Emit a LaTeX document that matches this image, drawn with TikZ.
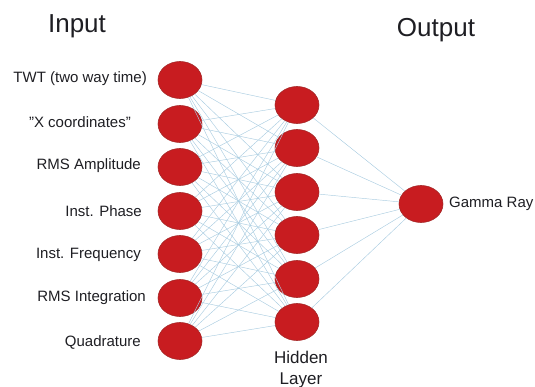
\documentclass[tikz,border=0pt]{standalone}
\usepackage{fontspec}
\setmainfont{Liberation Sans}
\usetikzlibrary{shapes.geometric}
\definecolor{neuron}{RGB}{200,28,32}
\definecolor{neuronedge}{RGB}{165,40,40}
\definecolor{wire}{RGB}{170,205,225}
\definecolor{txt}{RGB}{30,30,35}
\tikzset{
  neuronnode/.style={ellipse, fill=neuron, draw=neuronedge, line width=0.6pt,
    minimum width=44pt, minimum height=37pt, inner sep=0pt},
  lbl/.style={font=\fontsize{15}{17}\selectfont, text=txt, inner sep=0pt, anchor=east},
  title/.style={font=\fontsize{26}{28}\selectfont, text=txt, inner sep=0pt},
  wireline/.style={draw=wire, line width=0.45pt}
}
\begin{document}
\begin{tikzpicture}[x=1pt,y=-1pt]
\useasboundingbox (0,0) rectangle (535,387);
% titles
\node[title] (tin) at (77,26) {Input};
\node[title] (tout) at (436,30) {Output};
% input neurons
\foreach \i/\y in {1/80,2/124,3/167,4/211,5/254,6/298,7/341}{
  \node[neuronnode] (i\i) at (180,\y) {};
}
% hidden neurons
\foreach \j/\y in {1/105,2/148,3/192,4/235,5/279,6/322}{
  \node[neuronnode] (h\j) at (297,\y) {};
}
% output neuron
\node[neuronnode] (o) at (421,204) {};
% wires
\foreach \i in {1,...,7}{
  \foreach \j in {1,...,6}{
    \draw[wireline] (i\i) -- (h\j);
  }
}
\foreach \j in {1,...,6}{
  \draw[wireline] (h\j) -- (o);
}
% input labels
\node[lbl] (l1) at (147,79) {TWT (two way time)};
\node[lbl] (l2) at (131,122) {"X coordinates"};
\node[lbl] (l3) at (141,166) {RMS Amplitude};
\node[lbl] (l4) at (142,211) {Inst. Phase};
\node[lbl] (l5) at (141,255) {Inst. Frequency};
\node[lbl] (l6) at (146,298) {RMS Integration};
\node[lbl] (l7) at (141,342) {Quadrature};
% output label
\node[lbl, anchor=west] (lo) at (449,204) {Gamma Ray};
% hidden layer label
\node[font=\fontsize{17}{21}\selectfont, text=txt, align=center, inner sep=0pt] (hl) at (301,370) {Hidden\\Layer};
\end{tikzpicture}
\end{document}
